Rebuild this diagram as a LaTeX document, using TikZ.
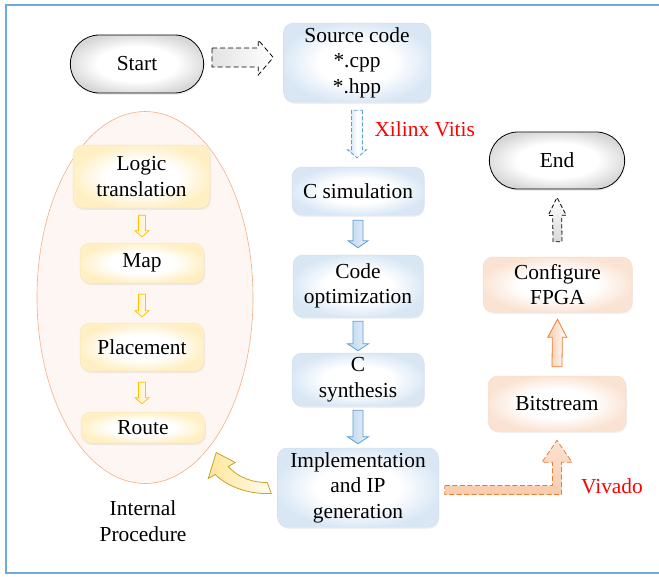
\documentclass[tikz,border=0pt]{standalone}
\usepackage{fontspec}
\setmainfont{Liberation Serif}
\usetikzlibrary{calc,shapes.misc,shapes.geometric,shadows}

\definecolor{frameblue}{HTML}{6FA8DC}
\definecolor{boxblue}{HTML}{D9E7F5}
\definecolor{boxblueline}{HTML}{CFE0F1}
\definecolor{boxyellow}{HTML}{FFEFC2}
\definecolor{boxyellowline}{HTML}{F7E8C2}
\definecolor{boxorange}{HTML}{FBE3D3}
\definecolor{boxorangeline}{HTML}{F6DCCB}
\definecolor{capgray}{HTML}{D7D7D7}
\definecolor{ellfill}{HTML}{FDF6F2}
\definecolor{ellline}{HTML}{F1B08A}
\definecolor{arrblue}{HTML}{5B9BD5}
\definecolor{arrbluefill}{HTML}{BDD7EE}
\definecolor{arrorange}{HTML}{ED7D31}
\definecolor{arrorangefill}{HTML}{F8CBAD}
\definecolor{arryellow}{HTML}{FFC000}
\definecolor{arryellowfill}{HTML}{FFE699}
\definecolor{arrgold}{HTML}{C9A227}
\definecolor{labelred}{HTML}{FF0000}

% soft radial fills: light centre, tinted rim
\pgfdeclareradialshading{rimblue}{\pgfpoint{0bp}{0bp}}{color(0bp)=(white); color(13bp)=(white); color(26bp)=(boxblue); color(50bp)=(boxblue)}
\pgfdeclareradialshading{rimyellow}{\pgfpoint{0bp}{0bp}}{color(0bp)=(white); color(13bp)=(white); color(26bp)=(boxyellow); color(50bp)=(boxyellow)}
\pgfdeclareradialshading{rimorange}{\pgfpoint{0bp}{0bp}}{color(0bp)=(white); color(13bp)=(white); color(26bp)=(boxorange); color(50bp)=(boxorange)}
\pgfdeclareradialshading{rimgray}{\pgfpoint{0bp}{0bp}}{color(0bp)=(white); color(15bp)=(white); color(27bp)=(capgray); color(50bp)=(capgray)}

% block arrow from coordinate #2 to coordinate #3:
% #4 half shaft width, #5 half head width, #6 head length
\newcommand{\blockarrow}[6][]{%
  \coordinate (ba-h) at ($(#3)!#6!(#2)$);
  \path[#1] ($(#2)!#4!90:(#3)$) -- ($(ba-h)!#4!90:(#3)$) -- ($(ba-h)!#5!90:(#3)$)
    -- (#3) -- ($(ba-h)!#5!-90:(#3)$) -- ($(ba-h)!#4!-90:(#3)$)
    -- ($(#2)!#4!-90:(#3)$) -- cycle;
}

\tikzset{
  every node/.style={font=\rmfamily\fontsize{21.4}{25.5}\selectfont},
  softshadow/.style={drop shadow={opacity=0.12, shadow xshift=0.8pt, shadow yshift=-1.8pt}},
  box/.style={rectangle, rounded corners=10pt, align=center, inner sep=1pt, shade, line width=0.5pt, softshadow},
  bluebox/.style={box, shading=rimblue, draw=boxblueline},
  yellowbox/.style={box, shading=rimyellow, draw=boxyellowline},
  orangebox/.style={box, shading=rimorange, draw=boxorangeline},
  terminal/.style={rounded rectangle, shade, shading=rimgray, draw=black, line width=0.8pt, softshadow},
  arrowline/.style={line width=0.8pt, line join=miter},
  bluearrow/.style={arrowline, draw=arrblue, left color=arrbluefill, right color=arrbluefill!35},
  yellowarrow/.style={arrowline, line width=0.7pt, draw=arryellow, left color=arryellowfill!70, right color=white},
  orangearrow/.style={arrowline, draw=arrorange, left color=arrorangefill, right color=white},
  dashline/.style={dash pattern=on 5pt off 3pt},
  redlabel/.style={text=labelred},
}

\begin{document}
\begin{tikzpicture}[x=1pt,y=-1pt]
\useasboundingbox (0,0) rectangle (659,576);
\draw[frameblue, line width=2pt] (6,5) rectangle (664,573);

% internal procedure region
\node[ellipse, fill=ellfill, draw=ellline, line width=0.6pt,
      minimum width=216pt, minimum height=372pt] (ip) at (145,297.5) {};
\node[align=center] (iplabel) at (143,521) {Internal\\Procedure};

% main column
\node[bluebox, minimum width=147pt, minimum height=79pt] (src)  at (357,62.5) {Source code\\*.cpp\\*.hpp};
\node[bluebox, minimum width=132pt, minimum height=48pt] (csim) at (358,191) {C simulation};
\node[bluebox, minimum width=130pt, minimum height=62pt] (copt) at (358,286) {Code\\optimization};
\node[bluebox, minimum width=132pt, minimum height=53pt] (csyn) at (358,379.5) {C\\synthesis};
\node[bluebox, minimum width=161pt, minimum height=79pt] (impl) at (358,487.5) {Implementation\\and IP\\generation};

% terminals
\node[terminal, minimum width=140pt, minimum height=58pt] (start) at (137,64) {Start};
\node[terminal, minimum width=142pt, minimum height=57pt] (fin)   at (557,160.5) {End};

% device side
\node[orangebox, minimum width=149pt, minimum height=55pt] (cfg)  at (557.5,284.5) {Configure\\FPGA};
\node[orangebox, minimum width=138pt, minimum height=55pt] (bits) at (557,403.5) {Bitstream};

% internal steps
\node[yellowbox, minimum width=137pt, minimum height=63pt] (logic) at (141.5,176.5) {Logic\\translation};
\node[yellowbox, minimum width=124pt, minimum height=40pt] (map)   at (142,263) {Map};
\node[yellowbox, minimum width=124pt, minimum height=48pt] (place) at (142,347) {Placement};
\node[yellowbox, minimum width=124pt, minimum height=31pt] (route) at (143,427.5) {Route};

% tool labels
\node[redlabel, anchor=west] (vitis)  at (371,129) {Xilinx Vitis};
\node[redlabel] (vivado) at (612,486) {Vivado};

% Start -> Source code
\coordinate (a1) at ([xshift=8pt,yshift=6.5pt]start.east);
\coordinate (b1) at ([xshift=-10pt,yshift=5pt]src.west);
\blockarrow[arrowline, draw=black, dashline, left color=gray!22, right color=white]{a1}{b1}{9.5pt}{17.5pt}{15pt}

% Source code -> C simulation (Vitis)
\coordinate (a2) at ([yshift=-8pt]src.south);
\coordinate (b2) at ([yshift=9pt]src.south |- csim.north);
\blockarrow[bluearrow, dash pattern=on 4pt off 2pt, middle color=white]{a2}{b2}{5.5pt}{9.5pt}{8pt}

% main column steps
\coordinate (a3) at ([yshift=-5pt]csim.south);
\coordinate (b3) at ([yshift=7pt]copt.north);
\blockarrow[bluearrow]{a3}{b3}{5pt}{10pt}{7pt}
\coordinate (a4) at ([yshift=-4pt]copt.south);
\coordinate (b4) at ([yshift=2pt]csyn.north);
\blockarrow[bluearrow]{a4}{b4}{5pt}{10.5pt}{7pt}
\coordinate (a5) at ([yshift=-4pt]csyn.south);
\coordinate (b5) at ([yshift=4pt]impl.north);
\blockarrow[bluearrow]{a5}{b5}{5pt}{10.5pt}{7pt}

% internal steps
\coordinate (a6) at ([yshift=-7pt]logic.south -| map.north);
\coordinate (b6) at ([yshift=6pt]map.north);
\blockarrow[yellowarrow]{a6}{b6}{3.5pt}{7pt}{6pt}
\coordinate (a7) at ([yshift=-11pt]map.south);
\coordinate (b7) at ([yshift=6pt]place.north);
\blockarrow[yellowarrow]{a7}{b7}{3.5pt}{7pt}{6pt}
\coordinate (a8) at ([yshift=-11pt]place.south);
\coordinate (b8) at ([yshift=8pt]route.north -| place.south);
\blockarrow[yellowarrow]{a8}{b8}{3.5pt}{7pt}{6pt}

% Implementation -> Bitstream (Vivado), L-shaped
\coordinate (vs) at ([xshift=6pt,yshift=-2.5pt]impl.east);
\coordinate (vt) at ([yshift=-9pt]bits.south);
\path[arrowline, draw=arrorange, dash pattern=on 5pt off 2.5pt,
      top color=arrorangefill!55, bottom color=arrorangefill]
  ($(vs)+(0,-4.5)$) -- ($(vt|-vs)+(-4.5,-4.5)$) -- ($(vt)+(-4.5,22)$) -- ($(vt)+(-15,22)$)
  -- (vt) -- ($(vt)+(15,22)$) -- ($(vt)+(4.5,22)$) -- ($(vt|-vs)+(4.5,4.5)$)
  -- ($(vs)+(0,4.5)$) -- cycle;

% Bitstream -> Configure FPGA
\coordinate (a9) at ([yshift=9pt]bits.north);
\coordinate (b9) at ([yshift=-7pt]cfg.south);
\blockarrow[orangearrow]{a9}{b9}{5pt}{9.5pt}{18pt}

% Configure FPGA -> End
\coordinate (a10) at ([yshift=15pt]cfg.north);
\coordinate (b10) at ([yshift=-8pt]fin.south);
\blockarrow[arrowline, draw=black, dash pattern=on 4pt off 2.5pt, top color=white, bottom color=gray!30]{a10}{b10}{4.5pt}{9pt}{18pt}

% Implementation -> internal procedure, curved
\coordinate (ct) at ([xshift=-8pt]impl.west);
\path[arrowline, draw=arrgold, left color=arryellowfill, right color=arryellowfill!15]
  ($(ct)+(-53,-35)$) -- ($(ct)+(-34,-25)$) -- ($(ct)+(-41,-21)$)
  .. controls ($(ct)+(-29,-8)$) and ($(ct)+(-14,-5)$) .. ($(ct)+(-2,-5)$)
  -- ($(ct)+(2,6)$)
  .. controls ($(ct)+(-19,7)$) and ($(ct)+(-41,0)$) .. ($(ct)+(-54,-13)$)
  -- ($(ct)+(-61,-9)$) -- cycle;
\end{tikzpicture}
\end{document}
